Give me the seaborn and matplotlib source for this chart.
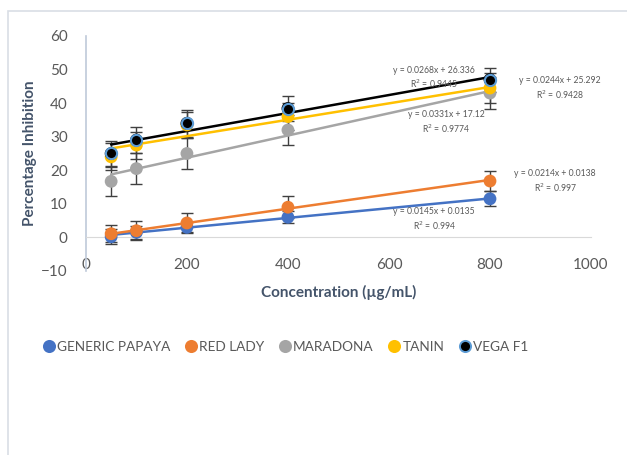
"""
plot.py - Konsantrasyona gore inhibisyon yuzdesi (5 papaya cesidi)
Excel tarzi scatter + hata cubuklari + dogrusal trend cizgileri.
"""

import numpy as np
import pandas as pd
import matplotlib
matplotlib.use("Agg")
import matplotlib.pyplot as plt
import seaborn as sns
from matplotlib.patches import Rectangle

# --- veri ---
concentration = [50, 100, 200, 400, 800]
varieties = ["GENERIC PAPAYA", "RED LADY", "MARADONA", "TANIN", "VEGA F1"]

generic_papaya = [0.2, 1.5, 3.0, 6.0, 11.5]
red_lady = [1.1, 2.0, 4.3, 9.0, 16.8]
maradona = [16.7, 20.5, 25.0, 32.0, 43.0]
tanin = [24.0, 27.5, 33.5, 36.0, 44.5]
vega_f1 = [25.0, 29.0, 34.0, 38.4, 47.0]

err_generic = [2.2, 2.0, 1.5, 1.8, 2.2]
err_red_lady = [2.6, 2.8, 3.0, 3.3, 3.0]
err_maradona = [4.4, 4.5, 4.5, 4.5, 4.8]
err_tanin = [4.0, 4.0, 4.0, 4.0, 4.5]
err_vega = [3.6, 4.0, 4.0, 3.6, 3.6]

# trend denklemleri (grafikte yazanlar)
slopes = [0.0145, 0.0214, 0.0331, 0.0244, 0.0268]
intercepts = [0.0135, 0.0138, 17.12, 25.292, 26.336]
r_squared = ["0.994", "0.997", "0.9774", "0.9428", "0.9445"]

values = [generic_papaya, red_lady, maradona, tanin, vega_f1]
errors = [err_generic, err_red_lady, err_maradona, err_tanin, err_vega]

colors = ["#4472C4", "#ED7D31", "#A5A5A5", "#FFC000", "#000000"]
edge_colors = ["#4472C4", "#ED7D31", "#A5A5A5", "#FFC000", "#5B9BD5"]
# denklem etiketlerinin yeri (veri koordinati)
label_pos = [(689, 5.3), (929, 16.6), (713, 34.3), (939, 44.4), (689, 47.5)]

df = pd.DataFrame({
    "Concentration": np.tile(concentration, len(varieties)),
    "Inhibition": np.concatenate(values),
    "Error": np.concatenate(errors),
    "Variety": np.repeat(varieties, len(concentration)),
})

sns.set_style("white")
plt.rcParams["font.family"] = ["Lato", "DejaVu Sans"]

fig = plt.figure(figsize=(6.27, 4.55), dpi=100)
ax = fig.add_axes([0.137, 0.4044, 0.8056, 0.5165])

# hata cubuklari
for name, c in zip(varieties, colors):
    sub = df[df["Variety"] == name]
    ax.errorbar(sub["Concentration"], sub["Inhibition"], yerr=sub["Error"],
                fmt="none", ecolor="#404040", elinewidth=1.0, capsize=4,
                capthick=1.0, zorder=2)

# trend cizgileri
x_fit = np.array([concentration[0], concentration[-1]])
for m, b, c in zip(slopes, intercepts, colors):
    sns.lineplot(x=x_fit, y=m * x_fit + b, color=c, linewidth=1.8, ax=ax,
                 zorder=3)

# noktalar
sns.scatterplot(data=df, x="Concentration", y="Inhibition", hue="Variety",
                palette=dict(zip(varieties, colors)), s=85, ax=ax, zorder=4,
                edgecolor="none", legend=False)
vega = df[df["Variety"] == "VEGA F1"]
ax.scatter(vega["Concentration"], vega["Inhibition"], s=65, c="#000000",
           edgecolors="#5B9BD5", linewidths=1.5, zorder=5)

# denklem metinleri
for (tx, ty), m, b, r2 in zip(label_pos, slopes, intercepts, r_squared):
    ax.text(tx, ty, f"y = {m}x + {b}\nR$^2$ = {r2}", fontsize=6.2,
            color="#595959", ha="center", va="center", linespacing=1.3,
            clip_on=False, zorder=6)

ax.set_xlim(0, 1000)
ax.set_ylim(-10, 60)
ax.set_xticks(range(0, 1001, 200))
ax.set_yticks(range(-10, 61, 10))
ax.tick_params(axis="both", length=0, labelsize=11, labelcolor="#595959")
ax.tick_params(axis="x", pad=15)
ax.tick_params(axis="y", pad=13)

for s in ["top", "right"]:
    ax.spines[s].set_visible(False)
ax.spines["bottom"].set_position(("data", 0))
ax.spines["bottom"].set_color("#D9D9D9")
ax.spines["left"].set_color("#BFC9D9")
ax.spines["left"].set_linewidth(1.2)

ax.set_xlabel("Concentration (µg/mL)", fontsize=11, fontweight="bold",
              color="#44546A")
ax.set_ylabel("Percentage Inhibition", fontsize=11, fontweight="bold",
              color="#44546A")
ax.xaxis.set_label_coords(0.5, -0.058)
ax.yaxis.set_label_coords(-0.097, 0.5)

# legend
handles = [plt.Line2D([], [], marker="o", linestyle="none", markersize=8,
                      markerfacecolor=c, markeredgecolor=e, markeredgewidth=1.4)
           for c, e in zip(colors, edge_colors)]
fig.legend(handles, varieties, loc="center", bbox_to_anchor=(0.455, 0.237),
           ncol=5, frameon=False, fontsize=9.8, labelcolor="#595959",
           handletextpad=0.1, columnspacing=1.0, handlelength=1.0)

# grafik cercevesi
fig.patches.append(Rectangle((8 / 627, -0.05), 1.1, 1 - 11 / 455 + 0.05,
                             transform=fig.transFigure, fill=False,
                             edgecolor="#D9DEE5", linewidth=1.2))

fig.savefig("out.png", dpi=100)
plt.close(fig)
